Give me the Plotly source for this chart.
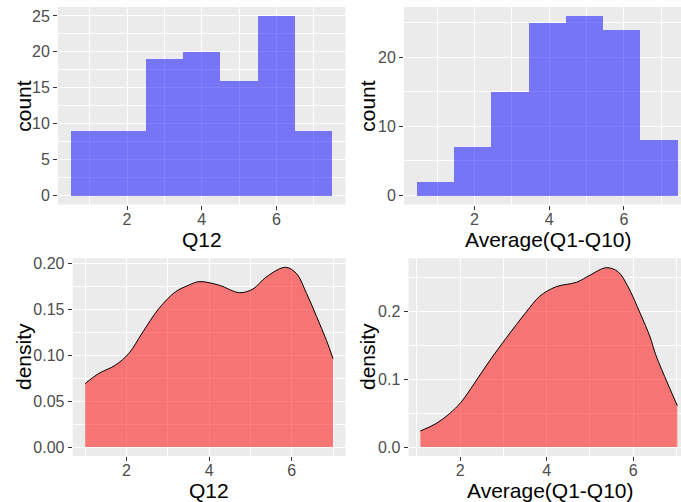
import plotly.graph_objects as go

W, H = 681, 502

# ---- data ----
q12_bin_centers = [1, 2, 3, 4, 5, 6, 7]
q12_counts = [9, 9, 19, 20, 16, 25, 9]

avg_bin_centers = [0.96, 1.955, 2.95, 3.95, 4.945, 5.94, 6.94]
avg_counts = [2, 7, 15, 25, 26, 24, 8]

q12_dens_x = [1.0, 1.33, 1.73, 2.06, 2.38, 2.79, 3.19, 3.5, 3.76, 4.25, 4.73,
              5.06, 5.38, 5.85, 6.11, 6.36, 6.6, 6.84, 7.0]
q12_dens_y = [0.069, 0.080, 0.089, 0.102, 0.124, 0.151, 0.169, 0.176, 0.180,
              0.176, 0.168, 0.172, 0.185, 0.1956, 0.189, 0.167, 0.142, 0.116, 0.096]

avg_dens_x = [1.08, 1.44, 1.75, 2.02, 2.33, 2.68, 3.07, 3.53, 3.84, 4.22, 4.69, 5.0,
              5.38, 5.65, 5.88, 6.16, 6.39, 6.52, 6.8, 7.02]
avg_dens_y = [0.0236, 0.0345, 0.049, 0.066, 0.094, 0.127, 0.161, 0.199, 0.222, 0.236,
              0.2425, 0.253, 0.264, 0.258, 0.236, 0.197, 0.162, 0.136, 0.093, 0.061]

x_label_q12 = "Q12"
x_label_avg = "Average(Q1-Q10)"

BLUE = "rgba(0,0,255,0.5)"
RED = "rgba(255,0,0,0.5)"

fig = go.Figure()

fig.add_trace(go.Bar(x=q12_bin_centers, y=q12_counts, width=1.0,
                     marker=dict(color=BLUE, line=dict(width=0)),
                     xaxis="x", yaxis="y", showlegend=False))
fig.add_trace(go.Bar(x=avg_bin_centers, y=avg_counts, width=0.997,
                     marker=dict(color=BLUE, line=dict(width=0)),
                     xaxis="x2", yaxis="y2", showlegend=False))

for xs, ys, xa, ya in [(q12_dens_x, q12_dens_y, "x3", "y3"),
                       (avg_dens_x, avg_dens_y, "x4", "y4")]:
    fig.add_trace(go.Scatter(x=xs, y=ys, mode="lines", fill="tozeroy",
                             fillcolor=RED, line=dict(width=0, shape="spline", smoothing=1.0),
                             xaxis=xa, yaxis=ya, showlegend=False, hoverinfo="skip"))
    fig.add_trace(go.Scatter(x=xs, y=ys, mode="lines",
                             line=dict(color="black", width=1, shape="spline", smoothing=1.0),
                             xaxis=xa, yaxis=ya, showlegend=False))

def px_x(a, b):
    return [a / W, b / W]

def px_y(top, bottom):
    return [(H - bottom) / H, (H - top) / H]

tickfont = dict(family="Liberation Sans, Arial, sans-serif", size=16, color="#4D4D4D")

def axis(domain, rng, dtick, tick0, minor_dtick, fmt=None, anchor=None):
    d = dict(domain=domain, range=rng, dtick=dtick, tick0=tick0,
             showgrid=True, gridcolor="white", gridwidth=1.2,
             zeroline=False, showline=False,
             ticks="outside", ticklen=4, tickwidth=1, tickcolor="#333333",
             tickfont=tickfont, anchor=anchor, automargin=False,
             minor=dict(dtick=minor_dtick, tick0=tick0 + minor_dtick, showgrid=True,
                        gridcolor="white", gridwidth=0.5, ticks=""))
    if fmt:
        d["tickformat"] = fmt
    return d

fig.update_layout(
    width=W, height=H, autosize=False,
    margin=dict(l=0, r=0, t=0, b=0, pad=0),
    paper_bgcolor="white", plot_bgcolor="#EBEBEB",
    bargap=0,
    xaxis=axis(px_x(58, 345.5), [0.15, 7.85], 2, 2, 1, anchor="y"),
    yaxis=axis(px_y(7, 204.5), [-1.25, 26.25], 5, 0, 2.5, anchor="x"),
    xaxis2=axis(px_x(404, 681), [0.11, 7.53], 2, 2, 1, anchor="y2"),
    yaxis2=axis(px_y(7, 204.5), [-1.3, 27.3], 10, 0, 5, anchor="x2"),
    xaxis3=axis(px_x(72.7, 345.5), [0.7, 7.3], 2, 2, 1, anchor="y3"),
    yaxis3=axis(px_y(258.3, 456), [-0.0098, 0.2054], 0.05, 0, 0.025, fmt=".2f", anchor="x3"),
    xaxis4=axis(px_x(408.5, 681), [0.805, 7.105], 2, 2, 1, anchor="y4"),
    yaxis4=axis(px_y(258.3, 456), [-0.0132, 0.2778], 0.1, 0, 0.05, fmt=".1f", anchor="x4"),
)

for ax in ["xaxis", "xaxis2", "xaxis3", "xaxis4"]:
    try:
        fig.layout[ax].ticklabelstandoff = -4
    except Exception:
        pass

titlefont = dict(family="Liberation Sans, Arial, sans-serif", size=21, color="black")

def ann(text, xp, yp, angle=0):
    fig.add_annotation(text=text, x=xp / W, y=(H - yp) / H, xref="paper", yref="paper",
                       showarrow=False, textangle=angle, font=titlefont,
                       xanchor="center", yanchor="middle")

ann("count", 24, 105.75, -90)
ann("count", 368, 105.75, -90)
ann("density", 23, 357, -90)
ann("density", 367, 357, -90)
ann(x_label_q12, 201.7, 239)
ann(x_label_avg, 548, 239)
ann(x_label_q12, 209, 490)
ann(x_label_avg, 550, 490)

fig.write_html("out.html", config={"displayModeBar": False},
               post_script="document.body.style.margin='0px';document.body.style.overflow='hidden';")
